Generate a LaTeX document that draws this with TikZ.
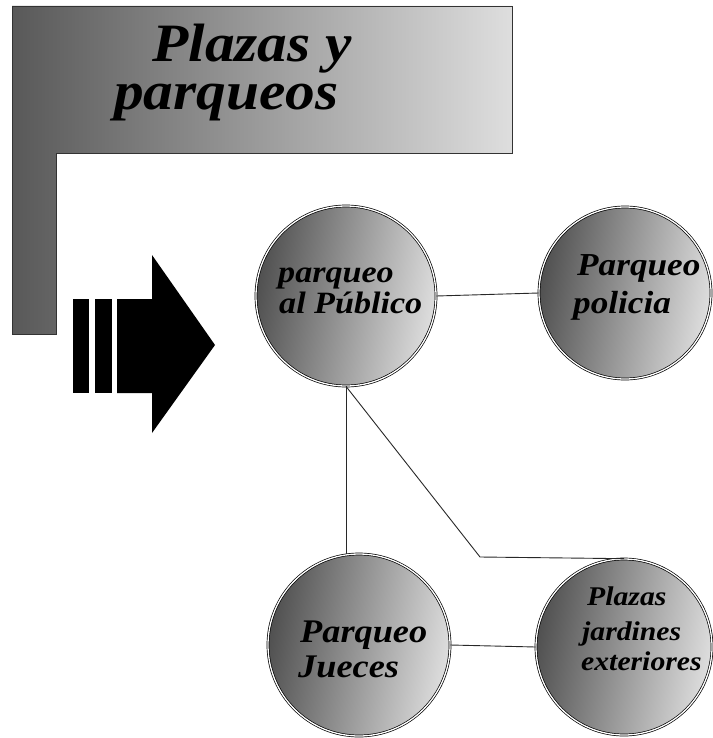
\documentclass[tikz,border=0pt]{standalone}
\usepackage{fontspec}
\newfontfamily\labfont{Liberation Serif}[FakeStretch=1.1]
\definecolor{shdark}{RGB}{80,80,80}
\definecolor{shlight}{RGB}{222,222,222}
\definecolor{linec}{RGB}{40,40,40}
\tikzset{
  ball/.style={circle, inner sep=0, minimum size=#1, left color=shdark, right color=shlight, shading angle=80,
    draw=black, double=white, double distance=1.3pt, line width=0.7pt},
  lbl/.style={anchor=base west, inner sep=0, text=black, font=\labfont\bfseries\itshape},
  conn/.style={draw=linec, line width=0.9pt},
}
\begin{document}
\begin{tikzpicture}[x=1pt,y=-1pt]
\useasboundingbox (0,0) rectangle (712,738);
% L-shaped title frame
\path[left color=shdark!95, right color=shlight, draw=black!80, line width=0.8pt]
  (12,6) -- (512,6) -- (512,153) -- (56,153) -- (56,334) -- (12,334) -- cycle;
\node[lbl, align=left, font=\labfont\bfseries\itshape\fontsize{54}{48}\selectfont] (title) at (114,110)
  {\hspace*{38pt}Plazas y\\parqueos};
% arrow
\fill[black] (73,299) rectangle (89,393);
\fill[black] (95,299) rectangle (112,393);
\fill[black] (117,299) -- (152,299) -- (152,255) -- (215,345) -- (152,433) -- (152,393) -- (117,393) -- cycle;
% circles
\node[ball=180] (n1) at (346,296) {};
\node[ball=172] (n2) at (625,293) {};
\node[ball=182] (n3) at (359,645) {};
\node[ball=176] (n4) at (624,647) {};
% connectors
\coordinate (bend) at (480,557);
\draw[conn] (n1.east) -- (n2.west);
\draw[conn] (n1.south) -- (n1.south |- n3.north);
\draw[conn] (n1.south) -- (bend) -- (n4.north);
\draw[conn] (n3.east) -- (n4.west);
% labels
\node[lbl, font=\labfont\bfseries\itshape\fontsize{31}{31}\selectfont] (t1a) at (278,282) {parqueo};
\node[lbl, font=\labfont\bfseries\itshape\fontsize{31}{31}\selectfont] (t1b) at (279,313) {al Público};
\node[lbl, font=\labfont\bfseries\itshape\fontsize{32}{32}\selectfont] (t2a) at (577,275) {Parqueo};
\node[lbl, font=\labfont\bfseries\itshape\fontsize{32}{32}\selectfont] (t2b) at (573,313) {policia};
\node[lbl, font=\labfont\bfseries\itshape\fontsize{33}{33}\selectfont] (t3a) at (300,642) {Parqueo};
\node[lbl, font=\labfont\bfseries\itshape\fontsize{33}{33}\selectfont] (t3b) at (298,677) {Jueces};
\node[lbl, font=\labfont\bfseries\itshape\fontsize{27}{27}\selectfont] (t4a) at (587,605) {Plazas};
\node[lbl, font=\labfont\bfseries\itshape\fontsize{27}{27}\selectfont] (t4b) at (582,640) {jardines};
\node[lbl, font=\labfont\bfseries\itshape\fontsize{27}{27}\selectfont] (t4c) at (581,670) {exteriores};
\end{tikzpicture}
\end{document}
